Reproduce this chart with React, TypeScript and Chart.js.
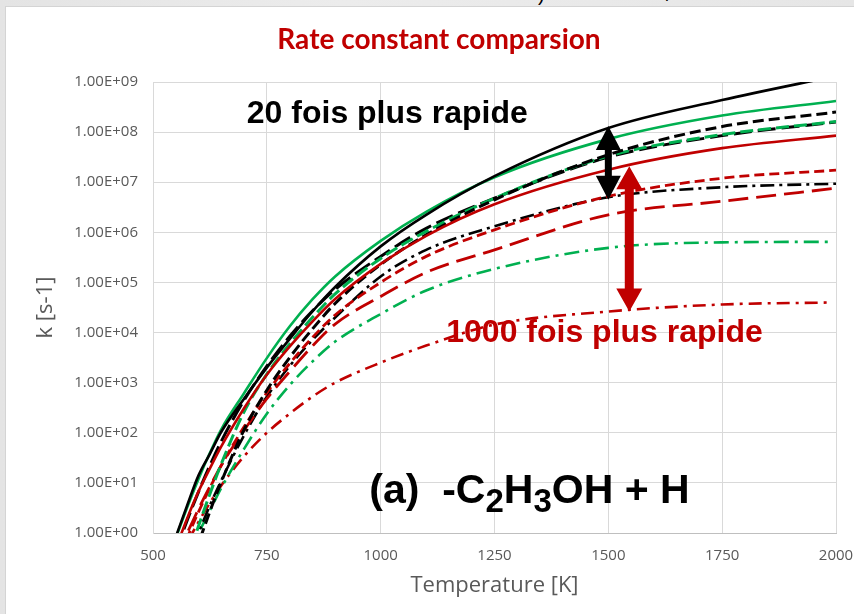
import { useEffect, useRef } from "react";
import { Chart, registerables } from "chart.js";

Chart.register(...registerables);

// Temperatures [K] at which the rate constants are tabulated
const TEMPERATURES = [550, 575, 600, 625, 650, 700, 750, 800, 850, 900, 1000, 1100, 1250, 1500, 1750, 2000];
const TEMPERATURES_DASHDOT = [550, 575, 600, 625, 650, 700, 750, 800, 850, 900, 1000, 1100, 1250, 1500, 1750, 1985];

// log10(k / s-1) for each channel
const BLACK_SOLID = [-0.08, 0.55, 1.15, 1.58, 2.02, 2.68, 3.3, 3.87, 4.42, 4.91, 5.72, 6.35, 7.12, 8.08, 8.64, 9.12];
const GREEN_SOLID = [-0.1, 0.51, 1.08, 1.6, 2.07, 2.79, 3.49, 4.12, 4.66, 5.12, 5.83, 6.41, 7.1, 7.86, 8.33, 8.62];
const RED_SOLID = [-0.31, 0.29, 0.83, 1.29, 1.73, 2.49, 3.16, 3.72, 4.22, 4.67, 5.37, 5.93, 6.56, 7.25, 7.68, 7.93];
const BLACK_DASH = [-1.64, -0.89, -0.21, 0.43, 1.02, 2.06, 2.85, 3.5, 4.07, 4.58, 5.36, 5.95, 6.65, 7.55, 8.11, 8.4];
const BLACK_LONGDASH = [-0.38, 0.25, 0.82, 1.35, 1.83, 2.65, 3.33, 3.92, 4.43, 4.86, 5.52, 6.08, 6.68, 7.5, 7.93, 8.2];
const GREEN_DASH = [-1.33, -0.56, 0.14, 0.78, 1.38, 2.42, 3.17, 3.77, 4.3, 4.77, 5.48, 6.02, 6.68, 7.52, 7.95, 8.21];
const RED_DASH = [-0.7, -0.1, 0.42, 0.9, 1.35, 2.12, 2.8, 3.38, 3.9, 4.35, 5.0, 5.52, 6.05, 6.72, 7.08, 7.24];
const RED_LONGDASH = [-0.45, 0.0, 0.48, 0.93, 1.35, 2.05, 2.68, 3.22, 3.73, 4.17, 4.72, 5.2, 5.65, 6.35, 6.62, 6.88];
const BLACK_DASHDOT = [-1.3, -0.62, 0.0, 0.55, 1.05, 1.95, 2.72, 3.33, 3.85, 4.3, 5.12, 5.65, 6.12, 6.7, 6.9, 6.97];
const GREEN_DASHDOT = [-1.0, -0.45, 0.0, 0.45, 0.9, 1.68, 2.38, 2.95, 3.42, 3.82, 4.37, 4.84, 5.27, 5.69, 5.8, 5.81];
const RED_DASHDOT = [-0.65, -0.2, 0.22, 0.6, 0.95, 1.53, 2.0, 2.38, 2.72, 3.0, 3.4, 3.74, 4.16, 4.42, 4.56, 4.6];

const X_TICKS = [500, 750, 1000, 1250, 1500, 1750, 2000];
const Y_TICKS = [1, 1e1, 1e2, 1e3, 1e4, 1e5, 1e6, 1e7, 1e8, 1e9];
const Y_TICK_LABELS = [
  "1.00E+00", "1.00E+01", "1.00E+02", "1.00E+03", "1.00E+04",
  "1.00E+05", "1.00E+06", "1.00E+07", "1.00E+08", "1.00E+09",
];

// Ratio arrows: temperature and log10(k) of both tips
const RATIO_ARROWS = [
  { t: 1500, top: 8.12, bottom: 6.65, color: "#000000", shaft: 7, headW: 25, headH: 24 },
  { t: 1546, top: 7.32, bottom: 4.42, color: "#C00000", shaft: 9, headW: 26, headH: 23 },
];

const GREEN = "#00B050";
const BLACK = "#000000";
const RED = "#C00000";
const TEXT_GREY = "#595959";

const SERIES = [
  { values: BLACK_SOLID, temps: TEMPERATURES, color: BLACK, dash: [], width: 2.6 },
  { values: GREEN_SOLID, temps: TEMPERATURES, color: GREEN, dash: [], width: 2.6 },
  { values: RED_SOLID, temps: TEMPERATURES, color: RED, dash: [], width: 2.6 },
  { values: BLACK_DASH, temps: TEMPERATURES, color: BLACK, dash: [11, 5], width: 3 },
  { values: GREEN_DASH, temps: TEMPERATURES, color: GREEN, dash: [13, 5], width: 3 },
  { values: BLACK_LONGDASH, temps: TEMPERATURES, color: BLACK, dash: [18, 6], width: 3 },
  { values: RED_DASH, temps: TEMPERATURES, color: RED, dash: [10, 5], width: 2.8 },
  { values: RED_LONGDASH, temps: TEMPERATURES, color: RED, dash: [20, 8], width: 2.8 },
  { values: BLACK_DASHDOT, temps: TEMPERATURES, color: BLACK, dash: [14, 5, 3, 5], width: 2.6 },
  { values: GREEN_DASHDOT, temps: TEMPERATURES_DASHDOT, color: GREEN, dash: [15, 6, 3, 6], width: 2.6 },
  { values: RED_DASHDOT, temps: TEMPERATURES_DASHDOT, color: RED, dash: [13, 6, 3, 6], width: 2.6 },
];

function drawDoubleArrow(
  ctx: CanvasRenderingContext2D,
  x: number,
  y1: number,
  y2: number,
  color: string,
  shaftW: number,
  headW: number,
  headH: number
) {
  ctx.save();
  ctx.fillStyle = color;
  ctx.beginPath();
  ctx.moveTo(x, y1);
  ctx.lineTo(x + headW / 2, y1 + headH);
  ctx.lineTo(x + shaftW / 2, y1 + headH);
  ctx.lineTo(x + shaftW / 2, y2 - headH);
  ctx.lineTo(x + headW / 2, y2 - headH);
  ctx.lineTo(x, y2);
  ctx.lineTo(x - headW / 2, y2 - headH);
  ctx.lineTo(x - shaftW / 2, y2 - headH);
  ctx.lineTo(x - shaftW / 2, y1 + headH);
  ctx.lineTo(x - headW / 2, y1 + headH);
  ctx.closePath();
  ctx.fill();
  ctx.restore();
}

const annotations = {
  id: "annotations",
  afterDatasetsDraw(chart: any) {
    const { ctx, scales, chartArea } = chart;
    const xs = scales.x;
    const ys = scales.y;

    RATIO_ARROWS.forEach((a) => {
      const px = xs.getPixelForValue(a.t);
      drawDoubleArrow(
        ctx,
        px,
        ys.getPixelForValue(10 ** a.top),
        ys.getPixelForValue(10 ** a.bottom),
        a.color,
        a.shaft,
        a.headW,
        a.headH
      );
    });

    ctx.save();
    ctx.textAlign = "left";
    ctx.textBaseline = "alphabetic";
    ctx.font = "bold 32px 'Liberation Sans', Arial, sans-serif";
    ctx.fillStyle = BLACK;
    ctx.fillText("20 fois plus rapide", xs.getPixelForValue(706), ys.getPixelForValue(10 ** 8.18));
    ctx.fillStyle = RED;
    ctx.fillText("1000 fois plus rapide", xs.getPixelForValue(1144), ys.getPixelForValue(10 ** 3.82));

    // (a)  -C2H3OH + H with subscripts
    const parts: [string, boolean][] = [
      ["(a)  -C", false],
      ["2", true],
      ["H", false],
      ["3", true],
      ["OH + H", false],
    ];
    let cx = xs.getPixelForValue(975);
    const base = ys.getPixelForValue(10 ** 0.6);
    ctx.fillStyle = BLACK;
    parts.forEach(([txt, sub]) => {
      ctx.font = sub
        ? "bold 33px 'Liberation Sans', Arial, sans-serif"
        : "bold 41px 'Liberation Sans', Arial, sans-serif";
      ctx.fillText(txt, cx, sub ? base + 9 : base);
      cx += ctx.measureText(txt).width;
    });
    ctx.restore();

    // axis titles and chart title
    ctx.save();
    ctx.fillStyle = TEXT_GREY;
    ctx.font = "22px 'Open Sans', sans-serif";
    ctx.textAlign = "center";
    ctx.textBaseline = "middle";
    ctx.fillText("Temperature [K]", (chartArea.left + chartArea.right) / 2, 586);
    ctx.translate(46, (chartArea.top + chartArea.bottom) / 2);
    ctx.rotate(-Math.PI / 2);
    ctx.fillText("k [s-1]", 0, 0);
    ctx.restore();

    ctx.save();
    ctx.fillStyle = RED;
    ctx.font = "bold 28px Lato, 'Open Sans', sans-serif";
    ctx.textAlign = "center";
    ctx.textBaseline = "middle";
    ctx.fillText("Rate constant comparsion", 439, 40);
    ctx.restore();
  },
};

export default function App() {
  const canvasRef = useRef<HTMLCanvasElement | null>(null);

  useEffect(() => {
    const canvas = canvasRef.current;
    if (!canvas) return;

    const datasets = SERIES.map((s) => ({
      data: s.temps.map((t, i) => ({ x: t, y: 10 ** s.values[i] })),
      borderColor: s.color,
      backgroundColor: s.color,
      borderDash: s.dash,
      borderWidth: s.width,
      pointRadius: 0,
      fill: false,
      cubicInterpolationMode: "monotone" as const,
      borderCapStyle: "butt" as const,
    }));

    const chart = new Chart(canvas, {
      type: "line",
      data: { datasets },
      options: {
        animation: false,
        responsive: false,
        maintainAspectRatio: false,
        layout: { padding: { left: 0, right: 18, top: 82, bottom: 0 } },
        plugins: {
          legend: { display: false },
          title: { display: false },
          tooltip: { enabled: false },
        },
        scales: {
          x: {
            type: "linear",
            min: 500,
            max: 2000,
            afterBuildTicks: (scale: any) => {
              scale.ticks = X_TICKS.map((v) => ({ value: v }));
            },
            afterFit: (scale: any) => {
              scale.height = 81;
              scale.paddingLeft = 0;
              scale.paddingRight = 0;
            },
            ticks: {
              color: TEXT_GREY,
              font: { family: "'Open Sans', sans-serif", size: 15 },
              padding: 14,
              maxRotation: 0,
              autoSkip: false,
              callback: (v: any) => String(v),
            },
            grid: { color: "#d9d9d9", lineWidth: 1, drawTicks: false },
            border: { color: "#bfbfbf", width: 1 },
          },
          y: {
            type: "logarithmic",
            min: 1,
            max: 1e9,
            afterBuildTicks: (scale: any) => {
              scale.ticks = Y_TICKS.map((v) => ({ value: v }));
            },
            afterFit: (scale: any) => {
              scale.width = 153;
            },
            ticks: {
              color: TEXT_GREY,
              font: { family: "'Open Sans', sans-serif", size: 15 },
              padding: 15,
              autoSkip: false,
              callback: (_v: any, index: number) => Y_TICK_LABELS[index],
            },
            grid: { color: "#d9d9d9", lineWidth: 1, drawTicks: false },
            border: { color: "#d9d9d9", width: 1 },
          },
        },
      },
      plugins: [annotations],
    });

    return () => chart.destroy();
  }, []);

  const topMark = {
    position: "absolute" as const,
    top: -17,
    font: "20px 'Liberation Sans', Arial, sans-serif",
    color: "#000",
    lineHeight: "22px",
  };

  return (
    <div
      style={{
        position: "fixed",
        left: 0,
        top: 0,
        width: 854,
        height: 614,
        overflow: "hidden",
        background: "linear-gradient(90deg, #e4e4e4 0%, #ececec 40%, #e6e6e6 100%)",
      }}
    >
      <span style={{ ...topMark, left: 538 }}>)</span>
      <span style={{ ...topMark, left: 666 }}>/</span>
      <div
        style={{
          position: "absolute",
          left: 5,
          top: 6,
          right: 0,
          bottom: 0,
          background: "#ffffff",
          borderLeft: "1px solid #d4d4d4",
          borderTop: "1px solid #d4d4d4",
        }}
      />
      <canvas
        ref={canvasRef}
        width={854}
        height={614}
        style={{ position: "absolute", left: 0, top: 0, width: 854, height: 614 }}
      />
    </div>
  );
}
